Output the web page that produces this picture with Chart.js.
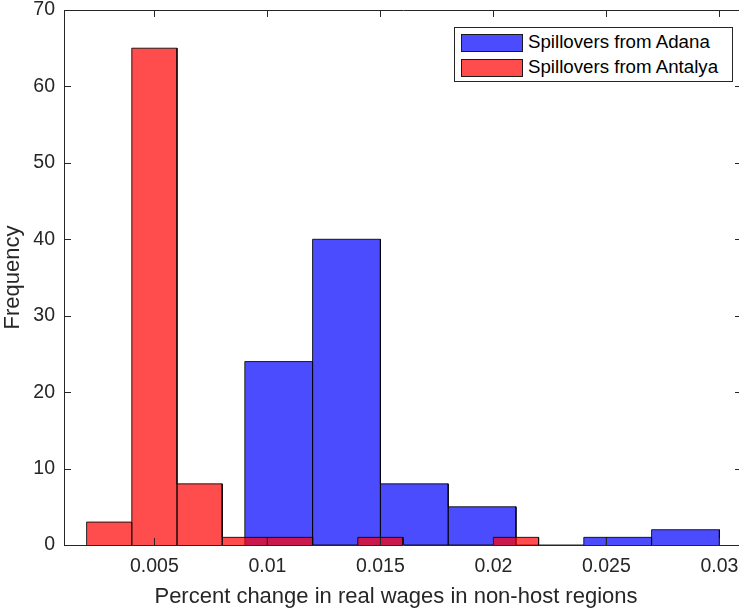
<!DOCTYPE html>
<html>
<head>
<meta charset="utf-8">
<script src="https://cdn.jsdelivr.net/npm/chart.js@4.4.1/dist/chart.umd.min.js"></script>
<style>
  html, body { margin: 0; padding: 0; background: #fff; overflow: hidden; }
  #wrap { position: relative; width: 742px; height: 609px; }
  #legend {
    position: absolute; left: 454px; top: 27px; width: 277px; height: 53px;
    border: 1px solid #262626; background: #fff;
    font-family: "Liberation Sans", Arial, Helvetica, sans-serif; font-size: 18.7px; color: #000;
  }
  .row { position: absolute; left: 6px; height: 18px; line-height: 18px; white-space: nowrap; }
  .sw { position: absolute; left: 0; top: 0; width: 60px; height: 16px; border: 1px solid #1a1a1a; }
  .lbl { position: absolute; left: 67px; top: -1px; }
  #xtitle {
    position: absolute; left: 96px; width: 600px; top: 583px; text-align: center;
    font-family: "Liberation Sans", Arial, Helvetica, sans-serif; font-size: 22px; color: #262626;
    line-height: 26px; white-space: nowrap;
  }
</style>
</head>
<body>
<div id="wrap">
  <canvas id="myChart" width="742" height="609"></canvas>
  <div id="legend"></div>
  <div id="xtitle"></div>
</div>
<script>
// histogram bin edges and counts
const adanaEdges = [0.009, 0.012, 0.015, 0.018, 0.021, 0.024, 0.025, 0.027, 0.030];
const adanaCounts = [24, 40, 8, 5, 0, 1, 1, 2];
const antalyaEdges = [0.002, 0.004, 0.006, 0.008, 0.010, 0.012, 0.014, 0.016, 0.018, 0.020, 0.022];
const antalyaCounts = [3, 65, 8, 1, 1, 0, 1, 0, 0, 1];

const seriesNames = ['Spillovers from Adana', 'Spillovers from Antalya'];
const seriesFill = ['rgba(0, 0, 255, 0.7)', 'rgba(255, 0, 0, 0.7)'];

const xTicks = [0.005, 0.01, 0.015, 0.02, 0.025, 0.03];
const xTickLabels = ['0.005', '0.01', '0.015', '0.02', '0.025', '0.03'];
const yTicks = [0, 10, 20, 30, 40, 50, 60, 70];
const xTitle = 'Percent change in real wages in non-host regions';
const yTitle = 'Frequency';

// turn edges + counts into a closed outline for every bar
function barOutline(edges, counts) {
    const pts = [];
    counts.forEach((c, i) => {
        pts.push({ x: edges[i], y: 0 }, { x: edges[i], y: c }, { x: edges[i + 1], y: c }, { x: edges[i + 1], y: 0 });
    });
    return pts;
}

const axisColor = '#262626';
const fontFamily = '"Liberation Sans", Arial, Helvetica, sans-serif';

// MATLAB style box with inward ticks
const boxPlugin = {
    id: 'box',
    afterDraw(chart) {
        const { ctx, chartArea: a, scales } = chart;
        ctx.save();
        ctx.strokeStyle = axisColor;
        ctx.lineWidth = 1;
        ctx.beginPath();
        ctx.rect(a.left + 0.5, a.top + 0.5, a.right - a.left, a.bottom - a.top);
        xTicks.forEach(v => {
            const px = Math.round(scales.x.getPixelForValue(v)) + 0.5;
            ctx.moveTo(px, a.bottom); ctx.lineTo(px, a.bottom - 7);
            ctx.moveTo(px, a.top); ctx.lineTo(px, a.top + 7);
        });
        yTicks.forEach(v => {
            const py = Math.round(scales.y.getPixelForValue(v)) + 0.5;
            ctx.moveTo(a.left, py); ctx.lineTo(a.left + 7, py);
            ctx.moveTo(a.right, py); ctx.lineTo(a.right - 7, py);
        });
        ctx.stroke();
        ctx.restore();
    }
};

const ctx = document.getElementById('myChart').getContext('2d');
const myChart = new Chart(ctx, {
    type: 'scatter',
    data: {
        datasets: [
            { label: seriesNames[0], data: barOutline(adanaEdges, adanaCounts), backgroundColor: seriesFill[0], order: 1 },
            { label: seriesNames[1], data: barOutline(antalyaEdges, antalyaCounts), backgroundColor: seriesFill[1], order: 0 }
        ].map(d => Object.assign(d, {
            showLine: true, fill: 'origin', borderColor: 'rgba(0, 0, 0, 0.85)', borderWidth: 1,
            pointRadius: 0, pointHoverRadius: 0, tension: 0
        }))
    },
    options: {
        responsive: false,
        animation: false,
        layout: { padding: { top: 10, right: 0, left: 0, bottom: 0 } },
        plugins: { legend: { display: false }, tooltip: { enabled: false } },
        scales: {
            x: {
                type: 'linear', min: 0.001, max: 0.031,
                afterBuildTicks: s => { s.ticks = xTicks.map(v => ({ value: v })); },
                afterFit: s => { s.height = 64; s.paddingLeft = 0; s.paddingRight = 0; },
                grid: { display: false, drawTicks: false }, border: { display: false },
                ticks: {
                    color: axisColor, padding: 10, font: { family: fontFamily, size: 19.5 },
                    callback: (v) => xTickLabels[xTicks.indexOf(v)]
                },
                title: { display: false }
            },
            y: {
                min: 0, max: 70,
                afterBuildTicks: s => { s.ticks = yTicks.map(v => ({ value: v })); },
                afterFit: s => { s.width = 64; s.paddingTop = 0; s.paddingBottom = 0; },
                grid: { display: false, drawTicks: false }, border: { display: false },
                ticks: { color: axisColor, padding: 9, font: { family: fontFamily, size: 19.5 } },
                title: {
                    display: true, text: yTitle,
                    color: axisColor, font: { family: fontFamily, size: 22 }, padding: { top: 0, bottom: 0 }
                }
            }
        }
    },
    plugins: [boxPlugin]
});

// x axis label, centred where the original figure put it
document.getElementById('xtitle').textContent = xTitle;

// legend box in the top right corner
const legendEl = document.getElementById('legend');
seriesNames.forEach((name, i) => {
    const row = document.createElement('div');
    row.className = 'row';
    row.style.top = (6 + i * 25) + 'px';
    row.innerHTML = `<span class="sw" style="background:${seriesFill[i]}"></span><span class="lbl">${name}</span>`;
    legendEl.appendChild(row);
});
</script>
</body>
</html>
